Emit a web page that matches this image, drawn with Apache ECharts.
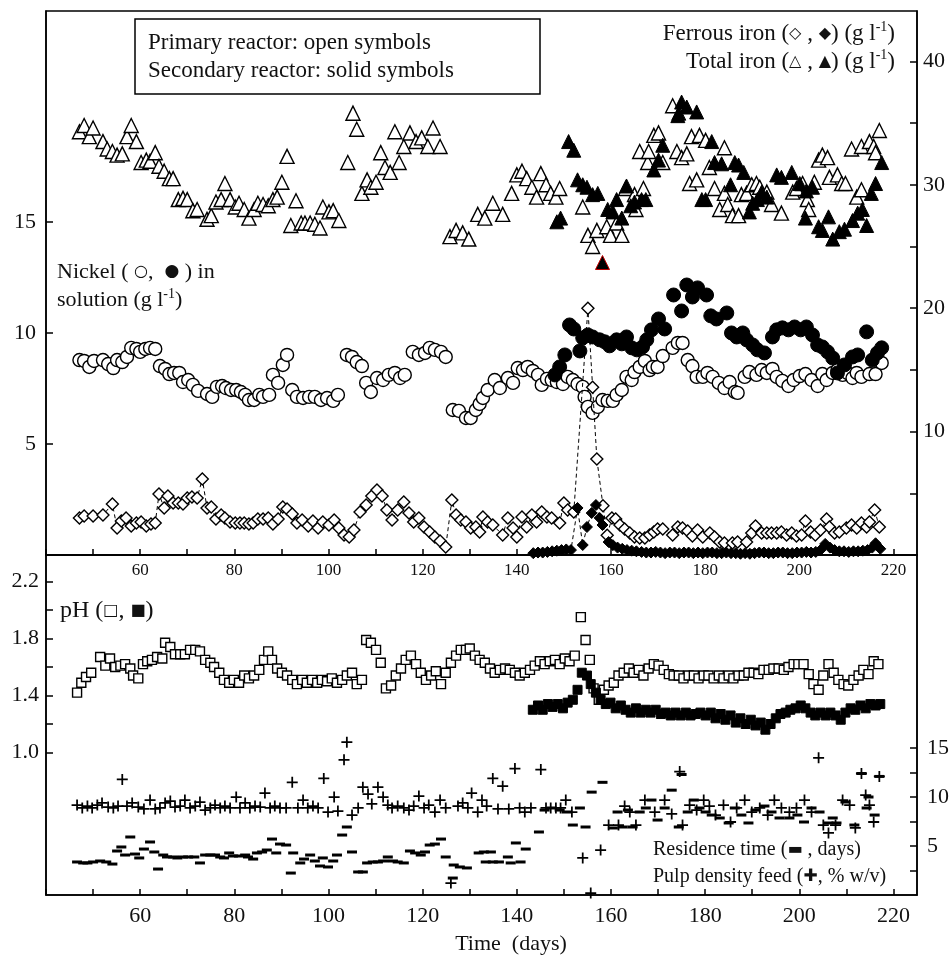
<!DOCTYPE html>
<html>
<head>
<meta charset="utf-8" />
<title>Reactor chart</title>
<script src="https://cdn.jsdelivr.net/npm/echarts@6.0.0/dist/echarts.min.js"></script>
<style>
  html, body { margin: 0; padding: 0; background: #fff; }
  #chart { width: 952px; height: 958px; }
</style>
</head>
<body>
<div id="chart"></div>
<script type="text/javascript">
// [day, value] pairs
var totalIronPrimary = [[47.1,34.3],[48.1,34.8],[49.2,33.9],[50.0,34.6],[52.1,33.5],[53.0,32.9],[54.1,32.7],[55.1,32.4],[56.2,32.5],[57.2,33.9],[58.1,34.8],[59.2,33.5],[60.2,31.8],[61.3,32.0],[62.1,31.9],[63.2,32.6],[64.0,31.5],[65.1,31.1],[66.2,30.5],[67.0,30.5],[68.1,28.8],[69.1,28.9],[70.0,28.8],[71.2,27.9],[72.1,28.0],[74.2,27.2],[75.1,27.5],[76.1,28.6],[77.2,28.8],[78.0,30.1],[79.1,28.8],[80.2,28.2],[81.0,28.5],[82.1,28.0],[83.1,27.3],[84.2,28.0],[85.0,28.5],[86.1,28.4],[87.2,28.3],[88.2,28.8],[89.1,29.0],[90.1,30.2],[91.2,32.3],[92.0,26.7],[93.1,28.7],[94.2,26.9],[95.0,26.9],[96.1,26.9],[97.1,26.8],[98.2,26.5],[98.8,28.2],[100.1,27.8],[101.0,27.9],[102.2,27.1],[104.1,31.8],[105.2,35.8],[106.0,34.5],[107.1,29.3],[108.2,30.4],[109.0,29.8],[110.1,30.2],[111.1,32.6],[112.0,31.4],[113.1,31.0],[114.1,34.3],[115.0,31.8],[116.0,33.1],[117.3,34.2],[118.6,33.5],[119.8,33.8],[121.1,33.1],[122.2,34.6],[123.7,33.1],[125.8,25.8],[127.1,26.3],[128.5,26.1],[129.8,25.6],[131.7,27.6],[133.2,27.3],[134.9,28.5],[137.0,27.6],[138.9,29.3],[140.0,30.8],[141.1,31.1],[142.1,30.5],[143.2,29.8],[144.2,29.0],[145.1,30.9],[146.2,30.0],[147.2,29.3],[148.3,29.0],[149.1,29.7],[154.0,28.2],[155.1,25.9],[156.1,25.0],[157.0,26.3],[159.1,26.6],[159.9,25.9],[161.2,26.9],[162.3,25.9],[163.1,29.7],[165.0,29.2],[165.3,28.0],[166.1,32.7],[166.9,29.7],[167.8,31.8],[168.0,32.7],[169.1,34.0],[170.1,34.2],[171.0,31.8],[173.1,36.4],[174.0,32.7],[175.0,32.2],[176.1,32.5],[176.7,30.1],[177.1,33.9],[178.2,30.4],[178.8,34.0],[180.1,33.6],[180.9,31.4],[182.0,29.7],[183.1,28.0],[184.1,33.0],[184.1,29.3],[184.8,28.4],[185.8,27.5],[187.1,27.5],[187.7,29.2],[188.8,29.3],[189.9,30.0],[190.9,30.1],[191.6,29.8],[193.1,29.4],[194.1,28.4],[196.2,27.7],[198.6,29.4],[199.4,29.7],[200.7,30.1],[201.7,28.8],[202.0,28.0],[203.2,30.2],[204.1,32.0],[204.9,32.4],[206.0,32.2],[206.4,30.6],[208.1,30.8],[209.0,30.1],[209.8,30.1],[211.1,32.9],[212.2,29.0],[213.2,29.6],[213.2,33.1],[214.9,33.5],[215.8,33.1],[216.2,32.6],[217.0,34.4]];

var totalIronSecondary = [[148.5,27.0],[149.3,27.3],[151.0,33.5],[152.1,32.8],[152.9,30.4],[154.0,30.0],[154.9,29.8],[156.1,29.2],[157.2,29.3],[158.2,23.7],[159.3,28.0],[160.4,27.8],[161.2,28.8],[162.3,27.3],[163.3,29.9],[164.2,28.3],[165.0,28.6],[166.5,28.8],[167.4,28.8],[169.1,31.2],[170.1,32.0],[171.0,33.2],[174.2,35.6],[174.4,35.8],[175.0,36.7],[176.1,36.3],[178.2,35.9],[179.3,28.8],[180.1,28.8],[181.4,33.5],[182.0,31.8],[183.5,31.7],[185.4,30.0],[186.3,31.8],[187.1,31.6],[188.2,31.0],[189.4,27.8],[190.1,28.5],[191.1,28.8],[192.0,29.4],[193.1,29.0],[195.2,30.8],[196.2,30.6],[198.4,31.0],[200.1,30.1],[201.3,27.3],[201.5,29.5],[202.8,29.8],[204.1,26.6],[204.9,26.3],[206.2,27.4],[207.1,25.6],[208.5,26.2],[209.6,26.4],[211.3,27.1],[212.4,27.7],[213.4,28.0],[214.3,26.7],[215.3,29.3],[216.2,30.1],[217.5,31.8]];

var nickelPrimary = [[47.1,8.78],[48.1,8.74],[49.2,8.47],[50.2,8.74],[52.1,8.78],[53.2,8.60],[54.3,8.42],[55.1,8.78],[56.2,8.69],[57.2,8.92],[58.1,9.33],[59.2,9.28],[60.0,9.15],[61.1,9.28],[62.1,9.33],[63.2,9.28],[64.2,8.51],[65.3,8.38],[66.2,8.15],[67.2,8.20],[68.3,8.20],[69.1,7.79],[70.2,7.88],[71.2,7.66],[72.3,7.39],[74.2,7.25],[75.3,7.12],[76.3,7.57],[77.4,7.61],[78.2,7.52],[79.3,7.43],[80.4,7.43],[81.4,7.34],[82.3,7.21],[83.1,6.98],[84.2,6.98],[85.3,7.21],[86.1,7.12],[87.4,7.21],[88.2,8.11],[89.3,7.75],[90.3,8.56],[91.2,9.01],[92.3,7.43],[93.3,7.12],[94.6,7.07],[95.9,7.12],[97.1,7.12],[98.4,6.98],[99.7,7.07],[101.0,6.94],[102.0,7.21],[103.9,9.01],[105.0,8.92],[106.0,8.69],[107.1,8.51],[108.0,7.75],[109.0,7.34],[110.3,7.97],[111.6,7.88],[112.8,8.11],[114.1,8.20],[115.2,7.97],[116.2,8.11],[117.9,9.15],[119.2,9.01],[120.5,9.10],[121.5,9.33],[122.6,9.24],[123.9,9.15],[124.9,8.92],[126.4,6.53],[127.7,6.49],[129.2,6.17],[130.2,6.17],[131.3,6.53],[132.1,6.80],[132.8,7.07],[133.8,7.43],[135.3,7.88],[136.4,7.52],[138.1,7.97],[139.2,7.75],[140.2,8.42],[141.3,8.33],[142.3,8.47],[143.4,8.29],[144.5,8.11],[145.3,7.66],[146.4,7.93],[147.4,7.88],[148.5,7.79],[149.8,7.70],[150.8,8.02],[151.9,7.88],[152.9,7.70],[154.0,7.57],[154.4,7.12],[155.1,6.67],[156.1,6.40],[157.2,6.67],[158.2,6.98],[159.3,6.94],[160.4,6.94],[161.2,7.21],[162.3,7.43],[163.3,8.02],[164.4,7.88],[165.0,8.24],[166.1,8.47],[167.2,8.74],[168.2,8.33],[168.9,8.47],[169.9,8.47],[171.0,8.96],[173.1,9.33],[174.2,9.55],[175.2,9.55],[176.3,8.78],[177.3,8.51],[178.2,8.02],[179.5,8.02],[180.5,8.20],[181.6,8.02],[182.9,7.75],[184.1,7.52],[185.2,7.79],[186.3,7.34],[186.9,7.30],[188.4,8.02],[189.4,8.24],[190.9,8.11],[192.0,8.33],[193.1,8.20],[194.3,8.38],[195.2,8.02],[196.4,7.84],[197.7,7.61],[198.8,7.88],[200.1,8.06],[201.3,8.15],[202.6,7.88],[203.9,7.61],[204.9,8.15],[205.8,7.88],[207.1,8.20],[208.1,8.33],[209.2,8.11],[210.2,8.20],[211.3,7.97],[212.2,8.20],[213.2,8.02],[214.9,8.15],[216.2,8.15],[217.5,8.65]];

var nickelSecondary = [[148.1,8.11],[149.1,8.47],[150.2,9.01],[151.2,10.36],[152.1,10.18],[153.4,9.19],[154.0,9.78],[155.1,9.91],[156.1,9.82],[157.6,9.69],[158.7,9.60],[159.7,9.42],[161.2,9.69],[162.3,9.51],[163.3,9.82],[164.4,9.33],[165.5,9.24],[166.7,9.37],[167.6,9.69],[168.6,10.14],[170.1,10.63],[171.4,10.18],[173.3,11.71],[175.0,10.99],[176.1,12.16],[177.3,11.62],[178.4,12.03],[180.3,11.71],[181.2,10.77],[182.4,10.63],[184.6,10.90],[185.6,10.00],[186.7,9.82],[188.0,10.00],[188.8,9.69],[190.1,9.46],[191.1,9.24],[192.6,9.10],[194.3,9.82],[195.2,10.14],[196.4,10.23],[197.7,10.14],[199.0,10.27],[200.3,10.14],[201.5,10.27],[202.8,9.91],[203.9,9.46],[204.9,9.37],[206.0,9.15],[207.1,8.87],[208.1,8.20],[209.6,8.56],[211.3,8.92],[212.4,9.01],[214.3,10.05],[215.5,8.78],[216.6,9.10],[217.5,9.33]];

var ferrousPrimary = [[47.1,3.00],[48.1,3.16],[50.0,3.16],[52.1,3.24],[54.1,4.13],[55.1,2.19],[56.0,2.76],[57.0,3.00],[58.1,2.35],[59.2,2.59],[60.2,2.67],[61.3,2.35],[62.3,2.51],[63.2,2.59],[64.0,4.94],[65.1,3.81],[65.9,4.78],[67.0,4.21],[68.1,4.21],[69.1,4.13],[70.0,4.62],[71.0,4.70],[72.1,4.62],[73.2,6.16],[74.2,3.81],[75.1,3.89],[76.1,2.92],[77.2,3.24],[78.0,3.00],[79.1,2.67],[80.2,2.59],[81.2,2.59],[82.1,2.59],[83.1,2.51],[84.0,2.59],[85.0,2.92],[86.1,2.92],[87.2,3.00],[88.2,2.51],[89.3,2.92],[90.3,3.89],[91.2,3.73],[92.3,3.32],[93.3,2.59],[94.4,2.84],[95.7,2.35],[96.7,2.76],[97.8,2.19],[98.8,2.67],[100.1,2.43],[101.2,2.84],[102.2,2.19],[103.3,1.62],[104.4,1.46],[105.4,2.03],[106.7,3.48],[108.0,4.05],[109.2,4.78],[110.3,5.27],[111.4,4.78],[112.4,3.65],[113.5,2.84],[114.7,3.65],[116.0,4.30],[117.1,3.40],[118.1,2.67],[119.2,3.00],[120.3,2.27],[121.5,1.86],[122.6,1.46],[123.7,1.13],[124.9,0.65],[126.2,4.46],[127.1,3.24],[128.1,2.84],[129.2,2.67],[130.2,2.19],[131.3,2.27],[132.1,1.86],[132.8,3.08],[133.8,2.67],[134.9,2.43],[137.0,1.62],[138.1,3.00],[139.2,2.19],[140.0,1.46],[141.1,3.08],[142.1,2.27],[143.2,3.24],[144.2,2.67],[145.3,3.48],[146.4,3.08],[147.4,3.00],[149.1,2.59],[150.0,4.21],[150.8,3.65],[152.1,3.48],[155.1,20.0],[156.1,13.6],[157.0,7.78],[158.3,4.0],[159.2,1.6],[160.2,3.0],[161.0,2.92],[161.9,2.43],[162.9,2.11],[164.0,1.78],[165.0,1.46],[166.1,1.38],[167.2,1.38],[168.2,1.62],[169.1,1.86],[169.9,2.11],[171.0,2.11],[173.1,1.62],[174.2,2.27],[175.2,2.19],[176.3,1.94],[177.3,1.54],[178.4,2.03],[179.5,1.46],[181.0,1.78],[182.0,1.46],[183.1,1.05],[184.1,0.97],[185.8,0.97],[186.9,1.05],[188.8,1.05],[189.9,1.78],[190.7,2.35],[192.0,1.78],[193.1,1.78],[194.1,1.78],[195.2,1.78],[196.2,1.86],[197.3,1.62],[198.4,1.78],[199.4,1.54],[200.5,1.62],[201.3,2.76],[202.4,1.86],[203.4,1.62],[204.5,2.03],[205.8,2.92],[206.4,2.27],[207.5,1.78],[208.5,1.86],[210.0,2.19],[211.1,2.43],[212.2,2.19],[213.2,2.59],[214.3,2.27],[214.9,2.67],[216.0,3.65],[217.0,2.27]];

var ferrousSecondary = [[143.5,0.15],[144.5,0.2],[145.5,0.2],[146.5,0.25],[147.5,0.3],[148.5,0.35],[149.5,0.4],[150.5,0.45],[151.5,0.4],[152.9,3.81],[154.0,0.81],[154.9,2.27],[155.9,3.4],[156.8,4.05],[157.6,3.0],[158.2,2.43],[159.5,1.05],[160.4,0.8],[161.4,0.6],[162.4,0.5],[163.4,0.4],[164.4,0.35],[165.4,0.3],[166.5,0.25],[167.5,0.2],[168.5,0.2],[169.5,0.25],[170.5,0.2],[171.5,0.15],[172.5,0.2],[173.5,0.2],[174.5,0.15],[175.5,0.2],[176.5,0.2],[177.5,0.15],[178.5,0.2],[179.5,0.15],[180.5,0.2],[181.5,0.2],[182.5,0.15],[183.5,0.15],[184.5,0.2],[185.5,0.15],[186.5,0.15],[187.5,0.1],[188.5,0.15],[189.5,0.1],[190.5,0.15],[191.5,0.2],[192.5,0.2],[193.5,0.15],[194.5,0.15],[195.5,0.2],[196.5,0.2],[197.5,0.15],[198.5,0.15],[199.5,0.2],[200.5,0.2],[201.5,0.25],[202.5,0.2],[203.5,0.25],[204.5,0.4],[205.5,0.9],[206.5,0.6],[207.5,0.4],[208.5,0.3],[209.5,0.3],[210.5,0.25],[211.5,0.3],[212.5,0.3],[213.5,0.35],[214.5,0.4],[215.5,0.6],[216.2,0.95],[217.2,0.5]];

var phPrimary = [[46.6,1.42],[47.5,1.49],[48.5,1.53],[49.6,1.56],[51.5,1.67],[52.6,1.61],[53.6,1.66],[54.7,1.60],[55.8,1.61],[56.8,1.62],[57.9,1.59],[58.5,1.54],[59.6,1.52],[60.6,1.62],[61.5,1.64],[62.5,1.65],[63.6,1.67],[64.7,1.66],[65.3,1.77],[66.4,1.74],[67.4,1.69],[68.5,1.69],[69.5,1.69],[70.6,1.72],[71.7,1.72],[72.7,1.71],[73.8,1.65],[74.9,1.63],[75.7,1.60],[76.8,1.56],[77.8,1.51],[78.9,1.49],[79.9,1.51],[81.0,1.49],[82.1,1.54],[83.1,1.52],[84.2,1.54],[85.3,1.58],[86.3,1.65],[87.2,1.71],[88.0,1.65],[89.1,1.59],[90.1,1.56],[91.2,1.54],[92.3,1.51],[93.3,1.48],[94.4,1.51],[95.4,1.49],[96.5,1.51],[97.6,1.49],[98.6,1.51],[99.7,1.50],[100.7,1.52],[101.8,1.49],[102.9,1.51],[103.9,1.54],[105.0,1.56],[106.0,1.48],[107.1,1.51],[108.0,1.79],[109.0,1.77],[110.1,1.72],[111.1,1.63],[112.2,1.45],[113.3,1.47],[114.3,1.54],[115.4,1.59],[116.4,1.65],[117.5,1.68],[118.6,1.62],[119.6,1.56],[120.7,1.51],[121.8,1.54],[122.8,1.57],[123.9,1.48],[124.9,1.56],[126.0,1.63],[127.1,1.68],[128.1,1.72],[129.2,1.72],[130.0,1.73],[131.1,1.68],[132.1,1.65],[133.2,1.63],[134.3,1.59],[135.3,1.56],[136.4,1.58],[137.5,1.59],[138.5,1.58],[139.6,1.56],[140.6,1.54],[141.7,1.56],[142.8,1.58],[143.8,1.61],[144.9,1.64],[145.9,1.62],[147.0,1.64],[148.1,1.65],[149.1,1.62],[150.2,1.66],[151.2,1.64],[152.3,1.68],[153.6,1.95],[154.6,1.79],[155.5,1.65],[156.3,1.45],[157.4,1.37],[158.5,1.44],[159.5,1.47],[160.6,1.49],[161.6,1.54],[162.7,1.56],[163.8,1.59],[164.8,1.56],[165.9,1.58],[166.9,1.54],[168.0,1.59],[169.1,1.62],[170.1,1.61],[171.2,1.58],[172.3,1.55],[173.3,1.54],[174.4,1.54],[175.4,1.52],[176.5,1.54],[177.6,1.54],[178.6,1.52],[179.7,1.54],[180.7,1.54],[181.8,1.52],[182.9,1.54],[183.9,1.52],[185.0,1.54],[186.0,1.52],[187.1,1.54],[188.2,1.54],[189.2,1.56],[190.3,1.56],[191.3,1.55],[192.4,1.58],[193.5,1.58],[194.5,1.59],[195.6,1.59],[196.7,1.58],[197.7,1.60],[198.8,1.62],[199.8,1.62],[200.9,1.62],[202.0,1.55],[203.0,1.48],[204.1,1.44],[205.1,1.54],[206.2,1.62],[207.3,1.56],[208.3,1.51],[209.4,1.48],[210.4,1.47],[211.5,1.51],[212.6,1.54],[213.6,1.58],[214.7,1.55],[215.8,1.64],[216.8,1.62]];

var phSecondary = [[143.4,1.30],[144.5,1.33],[145.5,1.30],[146.6,1.34],[147.6,1.32],[148.7,1.34],[149.8,1.31],[150.8,1.35],[151.9,1.37],[152.9,1.44],[153.8,1.56],[154.9,1.54],[155.7,1.48],[156.8,1.42],[157.8,1.37],[158.9,1.34],[159.9,1.35],[161.0,1.31],[162.1,1.33],[163.1,1.30],[164.2,1.28],[165.3,1.31],[166.3,1.28],[167.4,1.30],[168.4,1.28],[169.5,1.30],[170.6,1.27],[171.6,1.28],[172.7,1.26],[173.7,1.28],[174.8,1.26],[175.9,1.28],[176.9,1.26],[178.0,1.27],[179.0,1.28],[180.1,1.26],[181.2,1.28],[182.2,1.24],[183.3,1.27],[184.3,1.23],[185.4,1.26],[186.5,1.21],[187.5,1.24],[188.6,1.20],[189.7,1.23],[190.7,1.19],[191.8,1.21],[192.8,1.16],[193.9,1.20],[195.0,1.24],[196.0,1.27],[197.1,1.28],[198.1,1.30],[199.2,1.31],[200.3,1.33],[201.3,1.31],[202.4,1.28],[203.4,1.26],[204.5,1.28],[205.6,1.26],[206.6,1.28],[207.7,1.26],[208.8,1.23],[209.8,1.28],[210.9,1.31],[211.9,1.30],[213.0,1.33],[214.1,1.31],[215.1,1.34],[216.2,1.33],[217.2,1.34]];

var residenceTime = [[46.6,3.37],[47.9,3.27],[48.8,3.27],[50.0,3.37],[51.5,3.47],[52.8,3.37],[54.1,3.16],[55.1,4.49],[56.0,4.90],[56.8,4.08],[57.9,5.92],[58.9,4.18],[59.8,3.78],[60.8,4.69],[62.1,5.41],[63.0,4.39],[63.8,2.65],[64.9,4.08],[65.7,3.88],[67.0,3.88],[67.9,3.78],[69.1,3.88],[70.2,3.88],[71.5,3.88],[72.7,3.27],[73.8,4.08],[74.9,4.08],[75.9,4.08],[77.0,3.88],[77.8,3.78],[78.9,4.29],[79.7,3.98],[81.0,3.98],[82.3,4.08],[82.9,3.88],[84.0,3.67],[84.8,4.29],[85.9,4.39],[86.9,4.59],[88.0,5.71],[88.9,4.29],[89.7,5.20],[91.0,5.10],[92.0,2.24],[92.5,4.29],[94.0,3.27],[94.8,3.67],[96.1,4.08],[97.1,3.47],[98.2,2.96],[98.8,3.78],[99.9,2.86],[101.0,3.47],[101.8,4.08],[102.9,6.12],[103.9,6.94],[105.0,4.39],[106.3,2.35],[107.3,2.35],[108.2,3.27],[109.4,3.37],[110.5,3.37],[111.6,3.47],[112.6,3.88],[113.7,3.47],[114.7,3.37],[116.0,3.27],[117.3,4.49],[118.4,4.29],[119.6,4.08],[120.5,4.39],[121.5,5.10],[122.6,5.20],[123.9,5.71],[124.9,3.88],[126.4,1.73],[126.6,3.06],[127.9,2.86],[129.4,2.76],[131.9,4.29],[133.0,4.39],[133.4,3.37],[134.5,4.39],[134.9,3.37],[136.2,3.37],[138.1,3.88],[138.7,3.27],[139.8,5.31],[140.8,3.37],[141.9,4.69],[144.7,6.43],[145.9,8.67],[147.4,8.88],[149.1,8.67],[150.6,8.47],[151.9,7.14],[153.4,8.88],[154.6,6.94],[155.9,10.5],[158.2,11.5],[160.4,6.84],[161.4,8.47],[162.5,6.94],[163.6,8.67],[164.6,6.94],[166.1,8.47],[167.4,8.88],[168.6,9.69],[169.9,7.65],[171.4,8.88],[172.9,10.7],[174.4,6.94],[175.0,12.3],[176.3,8.47],[177.6,9.69],[178.8,8.88],[180.1,8.47],[181.4,8.16],[183.1,7.86],[185.0,7.35],[186.3,8.88],[187.7,8.16],[189.2,7.35],[190.7,8.67],[192.6,9.08],[194.1,8.47],[195.8,7.86],[197.9,7.86],[199.6,8.16],[201.0,7.45],[202.6,8.88],[204.3,8.47],[206.2,7.35],[207.1,7.86],[207.9,7.35],[209.8,9.49],[211.7,7.14],[213.2,12.4],[214.3,8.88],[214.7,10.0],[216.0,8.16],[217.0,12.1]];

var pulpDensity = [[46.6,9.18],[47.7,8.88],[48.8,9.08],[49.8,8.88],[50.9,9.18],[51.9,9.39],[53.2,8.98],[54.3,8.88],[55.3,9.08],[56.2,11.8],[57.2,9.08],[58.3,9.39],[59.6,8.98],[60.8,8.78],[62.1,9.69],[63.2,8.78],[64.2,8.88],[65.3,9.39],[66.4,9.59],[67.4,8.98],[68.5,9.08],[69.5,9.69],[70.6,8.88],[71.7,9.08],[72.7,9.49],[73.8,8.67],[74.9,8.88],[75.9,9.18],[77.0,8.88],[78.0,9.08],[79.1,8.88],[80.4,10.0],[81.2,8.88],[82.3,9.39],[83.3,8.88],[84.4,9.08],[85.5,8.98],[86.5,10.4],[87.6,8.88],[88.6,9.08],[89.7,8.88],[91.0,8.88],[92.3,11.5],[93.5,8.88],[94.6,9.69],[95.6,8.88],[96.7,9.08],[97.8,8.88],[99.0,11.9],[99.9,8.47],[101.2,10.0],[102.0,8.57],[103.3,13.8],[103.9,15.6],[105.0,8.16],[106.3,8.88],[107.3,11.0],[108.4,10.3],[109.2,9.29],[110.5,11.0],[111.6,10.0],[112.6,9.18],[113.5,8.88],[114.7,9.08],[116.0,8.88],[117.1,8.67],[118.1,9.08],[119.2,10.1],[120.3,8.88],[121.3,9.18],[122.6,8.47],[123.7,9.69],[124.9,8.88],[126.0,1.22],[127.5,9.08],[128.5,9.39],[129.6,8.88],[130.4,10.4],[131.7,8.47],[132.6,9.69],[133.6,9.08],[134.9,11.9],[136.0,8.78],[137.0,11.1],[138.3,8.78],[139.6,12.9],[140.6,8.88],[141.7,8.47],[143.0,8.88],[145.1,12.8],[146.2,8.88],[147.2,8.88],[148.3,8.88],[149.3,8.88],[150.4,9.69],[151.7,8.47],[154.0,3.78],[155.7,0.2],[157.8,4.59],[159.5,7.14],[161.6,7.14],[162.9,9.08],[164.0,8.47],[165.3,7.14],[167.2,9.69],[169.3,8.47],[171.4,9.69],[172.9,8.27],[174.6,12.6],[175.2,7.14],[176.7,9.18],[178.2,8.67],[179.7,9.69],[180.9,9.08],[182.2,8.16],[183.9,9.18],[185.4,7.45],[186.7,8.88],[188.4,9.69],[189.9,8.47],[191.6,8.88],[193.3,8.16],[194.7,9.69],[196.2,8.88],[197.9,8.47],[199.4,8.88],[201.1,9.69],[202.6,8.47],[204.1,14.0],[205.1,7.14],[206.2,6.33],[207.7,7.14],[209.2,9.69],[210.7,9.18],[211.9,6.84],[213.2,12.4],[214.1,10.2],[214.9,9.18],[215.8,7.45],[217.0,12.1]];

// axis ticks and labels
var timeTicks = [40,50,60,70,80,90,100,110,120,130,140,150,160,170,180,190,200,210,220];
var timeLabels = [60,80,100,120,140,160,180,200,220];
var nickelTicks = [5,10,15];
var ironTicks = [5,10,15,20,25,30,35,40];
var ironLabels = [10,20,30,40];
var phTicks = [1.0,1.2,1.4,1.6,1.8,2.0,2.2];
var phLabels = [1.0,1.4,1.8,2.2];
var feedTicks = [2.5,5,7.5,10,12.5,15];
var feedLabels = [5,10,15];

var FONT = 'Liberation Serif';
var INK = '#111';

function timeAxis(gridIndex, fontSize, margin) {
  return {
    type: 'value', gridIndex: gridIndex, min: 40, max: 225,
    splitLine: {show: false},
    axisLine: {onZero: false, lineStyle: {color: '#000', width: 1.5}},
    axisTick: {inside: true, length: 6, customValues: timeTicks, lineStyle: {color: '#000', width: 1.5}},
    axisLabel: {customValues: timeLabels, fontFamily: FONT, fontSize: fontSize, color: INK, margin: margin}
  };
}

function valueAxis(gridIndex, pos, max, ticks, labels, fontSize, margin, fmt) {
  return {
    type: 'value', gridIndex: gridIndex, position: pos, min: 0, max: max,
    splitLine: {show: false},
    axisLine: {show: true, onZero: false, lineStyle: {color: '#000', width: 1.5}},
    axisTick: {show: true, inside: true, length: 7, customValues: ticks, lineStyle: {color: '#000', width: 1.5}},
    axisLabel: {customValues: labels, fontFamily: FONT, fontSize: fontSize, color: INK, margin: margin, formatter: fmt}
  };
}

function openStyle() {
  return {color: '#fff', borderColor: '#000', borderWidth: 1.4, opacity: 1};
}
function solidStyle() {
  return {color: '#000', borderColor: '#000', borderWidth: 1, opacity: 1};
}

var plusPath = 'path://M4.2,0 H5.8 V4.2 H10 V5.8 H5.8 V10 H4.2 V5.8 H0 V4.2 H4.2 Z';

// the one solid triangle drawn with a red edge in the figure
var ironSecondaryData = totalIronSecondary.map(function (p) {
  if (p[0] === 158.2) {
    return {value: p, itemStyle: {borderColor: '#c00000', borderWidth: 1}};
  }
  return p;
});

function richText(x, y, align, text, size) {
  return {
    type: 'text', x: x, y: y, z: 100,
    style: {
      text: text, fill: INK, fontFamily: FONT, fontSize: size,
      align: align, verticalAlign: 'middle', lineHeight: size + 4,
      rich: {
        sym: {fontFamily: 'DejaVu Sans', fontSize: 16, fill: INK},
        bsym: {fontFamily: 'DejaVu Sans', fontSize: 17, fill: INK},
        sup: {fontFamily: FONT, fontSize: 14, fill: INK, verticalAlign: 'top', lineHeight: 14}
      }
    }
  };
}

var myChart = echarts.init(document.getElementById('chart'), null, {renderer: 'canvas'});

option = {
  animation: false,
  backgroundColor: '#fff',
  grid: [
    {left: 46, right: 35, top: 11, height: 544, show: true, borderColor: '#000', borderWidth: 1.5, containLabel: false, outerBoundsMode: 'none'},
    {left: 46, right: 35, top: 555, height: 340, show: true, borderColor: '#000', borderWidth: 1.5, containLabel: false, outerBoundsMode: 'none'}
  ],
  xAxis: [
    timeAxis(0, 17, 7),
    timeAxis(1, 22, 10)
  ],
  yAxis: [
    valueAxis(0, 'left', 24.5, nickelTicks, nickelTicks, 22, 10),
    valueAxis(0, 'right', 44.08, ironTicks, ironLabels, 22, 6),
    valueAxis(1, 'left', 2.386, phTicks, phLabels, 22, 7, function (v) { return v.toFixed(1); }),
    valueAxis(1, 'right', 34.7, feedTicks, feedLabels, 22, 10)
  ],
  series: [
    {name: 'Total iron (primary)', type: 'scatter', xAxisIndex: 0, yAxisIndex: 1, symbol: 'triangle', symbolSize: 14, itemStyle: openStyle(), data: totalIronPrimary},
    {name: 'Total iron (secondary)', type: 'scatter', xAxisIndex: 0, yAxisIndex: 1, symbol: 'triangle', symbolSize: 14, itemStyle: solidStyle(), data: ironSecondaryData},
    {name: 'Nickel (primary)', type: 'scatter', xAxisIndex: 0, yAxisIndex: 0, symbol: 'circle', symbolSize: 13, itemStyle: openStyle(), data: nickelPrimary},
    {name: 'Nickel (secondary)', type: 'scatter', xAxisIndex: 0, yAxisIndex: 0, symbol: 'circle', symbolSize: 14, itemStyle: solidStyle(), data: nickelSecondary},
    {name: 'Ferrous iron (primary)', type: 'line', xAxisIndex: 0, yAxisIndex: 1, symbol: 'diamond', symbolSize: 12, showAllSymbol: true,
      lineStyle: {color: '#000', width: 1, type: [4, 3]}, itemStyle: openStyle(), data: ferrousPrimary},
    {name: 'Ferrous iron (secondary)', type: 'line', xAxisIndex: 0, yAxisIndex: 1, symbol: 'diamond', symbolSize: 11, showAllSymbol: true,
      lineStyle: {color: '#000', width: 1, type: [4, 3]}, itemStyle: solidStyle(), data: ferrousSecondary},
    {name: 'pH (primary)', type: 'scatter', xAxisIndex: 1, yAxisIndex: 2, symbol: 'rect', symbolSize: 9, itemStyle: openStyle(), data: phPrimary},
    {name: 'pH (secondary)', type: 'scatter', xAxisIndex: 1, yAxisIndex: 2, symbol: 'rect', symbolSize: 9, itemStyle: solidStyle(), data: phSecondary},
    {name: 'Residence time', type: 'scatter', xAxisIndex: 1, yAxisIndex: 3, symbol: 'rect', symbolSize: [10, 3], itemStyle: {color: '#000', opacity: 1}, data: residenceTime},
    {name: 'Pulp density feed', type: 'scatter', xAxisIndex: 1, yAxisIndex: 3, symbol: plusPath, symbolSize: 11, itemStyle: {color: '#000', opacity: 1}, data: pulpDensity}
  ],
  graphic: [
    {type: 'rect', z: 90, shape: {x: 135, y: 19, width: 405, height: 75}, style: {fill: '#fff', stroke: '#000', lineWidth: 1.5}},
    richText(148, 43, 'left', 'Primary reactor: open symbols', 23),
    richText(148, 71, 'left', 'Secondary reactor: solid symbols', 23),
    richText(895, 34, 'right', 'Ferrous iron ({sym|◇} , {sym|◆}) (g l{sup|-1})', 23),
    richText(895, 62, 'right', 'Total iron ({sym|△} , {sym|▲}) (g l{sup|-1})', 23),
    richText(57, 272, 'left', 'Nickel ( {sym|○},  {bsym|●} ) in', 22),
    richText(57, 300, 'left', 'solution (g l{sup|-1})', 22),
    richText(60, 611, 'left', 'pH ({sym|□}, {sym|■})', 24),
    richText(653, 850, 'left', 'Residence time ({sym|▬} , days)', 20),
    richText(653, 877, 'left', 'Pulp density feed ({bsym|✚}, % w/v)', 20),
    richText(511, 944, 'center', 'Time  (days)', 22)
  ]
};

myChart.setOption(option);
</script>
</body>
</html>
